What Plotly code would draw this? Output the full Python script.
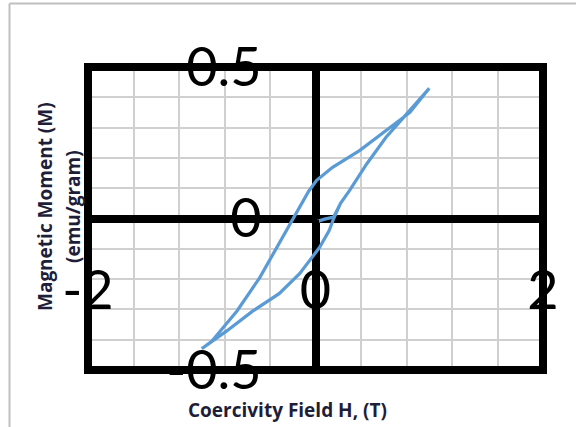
import plotly.graph_objects as go

# hysteresis loop (H in T, M in emu/gram)
field_h = [0.0, 0.08, 0.16, 0.22, 0.30, 0.45, 0.62, 0.83, 1.0,
           0.83, 0.62, 0.39, 0.15, 0.01, -0.06, -0.14, -0.20, -0.32, -0.49, -0.69, -0.91, -1.0,
           -0.78, -0.55, -0.32, -0.14, -0.03, 0.035, 0.12, 0.16, 0.22, 0.30, 0.45, 0.62, 0.83, 1.0]
moment_m = [-0.012, -0.002, 0.005, 0.05, 0.093, 0.18, 0.268, 0.357, 0.43,
            0.35, 0.29, 0.225, 0.169, 0.126, 0.09, 0.036, 0.0, -0.083, -0.195, -0.305, -0.404, -0.43,
            -0.371, -0.305, -0.248, -0.182, -0.129, -0.096, -0.04, 0.0, 0.05, 0.093, 0.18, 0.268, 0.357, 0.43]

x_ticks = [-2, 0, 2]
y_ticks = [-0.5, 0, 0.5]

L, R, T, B = 88, 33, 67, 57
W, H = 576, 427
pw, ph = W - L - R, H - T - B


def px(x):
    return (x - L) / pw


def py(y):
    return (H - B - y) / ph


fig = go.Figure()
fig.add_trace(go.Scatter(x=field_h, y=moment_m, mode='lines',
                         line=dict(color='#5B9BD5', width=3.2), showlegend=False))

tickfont = dict(family='Lato', size=54, color='black')
titlefont = dict(family='Open Sans', size=19, color='#1E1E38')
fig.update_layout(
    width=W, height=H,
    margin=dict(l=L, r=R, t=T, b=B),
    paper_bgcolor='white', plot_bgcolor='white',
    xaxis=dict(range=[-2, 2], tickvals=x_ticks, ticktext=['-2', '0', '2'],
               anchor='free', position=0.5,
               ticks='outside', ticklen=15, tickwidth=6, tickcolor='black',
               ticklabelstandoff=10, tickfont=tickfont,
               showgrid=False, zeroline=True, zerolinecolor='black', zerolinewidth=8,
               minor=dict(dtick=0.4, tick0=0, showgrid=True, gridcolor='#D0D0D0', gridwidth=1.5),
               showline=False),
    yaxis=dict(range=[-0.5, 0.5], tickvals=y_ticks, ticktext=['-0.5', '0', '0.5'],
               anchor='free', position=0.5,
               ticks='outside', ticklen=15, tickwidth=6, tickcolor='black',
               ticklabelstandoff=28, tickfont=tickfont,
               showgrid=False, zeroline=True, zerolinecolor='black', zerolinewidth=8,
               minor=dict(dtick=0.1, tick0=0, showgrid=True, gridcolor='#D0D0D0', gridwidth=1.5),
               showline=False),
    shapes=[
        dict(type='rect', xref='paper', yref='paper', x0=0, x1=1, y0=0, y1=1,
             line=dict(color='black', width=8), layer='above'),
        # outer chart frame
        dict(type='line', xref='paper', yref='paper', x0=px(9.5), x1=px(W + 5), y0=py(3.5), y1=py(3.5),
             line=dict(color='#BFBFBF', width=2)),
        dict(type='line', xref='paper', yref='paper', x0=px(9.5), x1=px(9.5), y0=py(3.5), y1=py(H + 5),
             line=dict(color='#BFBFBF', width=2)),
    ],
    annotations=[
        dict(text='<b>Coercivity Field H, (T)</b>', xref='paper', yref='paper',
             x=px(287), y=py(410), xanchor='center', yanchor='middle', showarrow=False,
             font=titlefont),
        dict(text='<b>Magnetic Moment (M)</b>', xref='paper', yref='paper',
             x=px(45), y=py(207), xanchor='center', yanchor='middle', showarrow=False,
             textangle=-90, font=titlefont),
        dict(text='<b>(emu/gram)</b>', xref='paper', yref='paper',
             x=px(73), y=py(207), xanchor='center', yanchor='middle', showarrow=False,
             textangle=-90, font=titlefont),
    ],
)

fig.write_html("out.html", config={'displayModeBar': False},
               post_script="document.body.style.margin='0';")
